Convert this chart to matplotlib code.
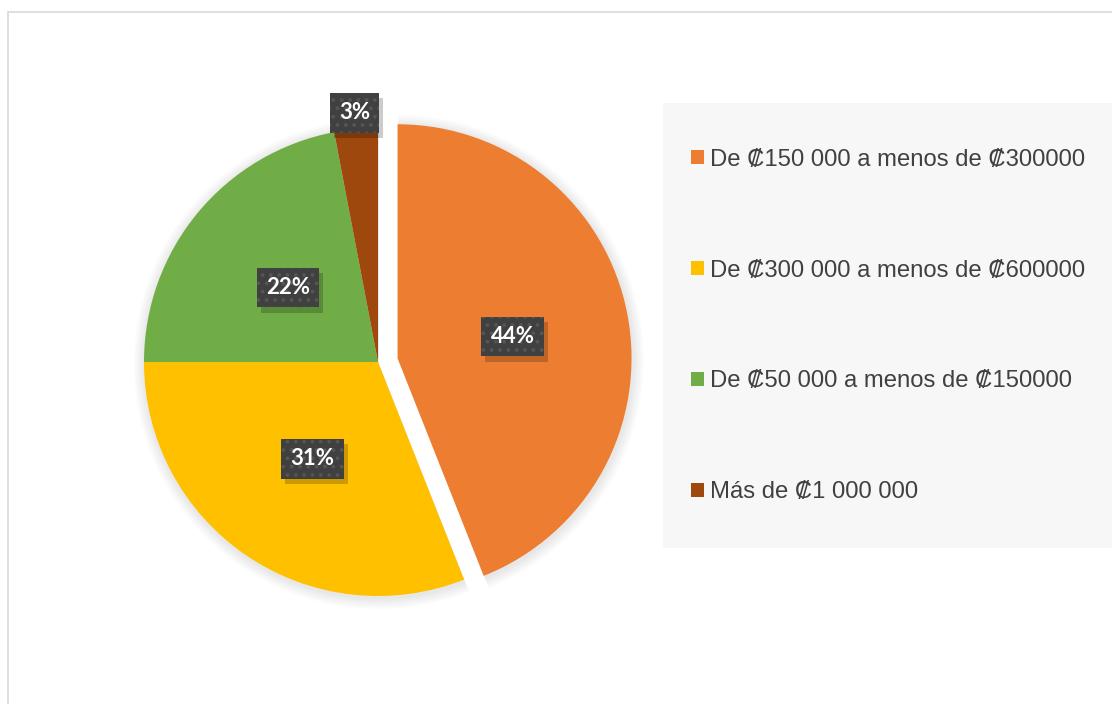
import matplotlib.pyplot as plt
import matplotlib.patheffects as pe
from matplotlib.patches import Rectangle
import numpy as np

categories = ['De ₡150 000 a menos de ₡300000',
              'De ₡300 000 a menos de ₡600000',
              'De ₡50 000 a menos de ₡150000',
              'Más de ₡1 000 000']
shares = [44, 31, 22, 3]
colors = ['#ed7d31', '#ffc000', '#70ad47', '#9e480e']
explode = [0.085, 0, 0, 0]


class PlainShadow(pe.SimplePatchShadow):
    # shadow without the hatch dots of the box
    def draw_path(self, renderer, gc, tpath, affine, rgbFace):
        gc0 = renderer.new_gc()
        gc0.copy_properties(gc)
        gc0.set_hatch(None)
        super().draw_path(renderer, gc0, tpath, affine, rgbFace)


W, H = 1112, 704
plt.rcParams['hatch.linewidth'] = 1.5
fig = plt.figure(figsize=(W / 100, H / 100), dpi=100)
fig.patch.set_facecolor('white')

# outer chart border
fig.patches.append(Rectangle((8 / W, -0.1), 1.2, 1 - 12 / H + 0.1,
                             transform=fig.transFigure, fill=False,
                             edgecolor='#d9d9d9', linewidth=1.2))

# legend background
fig.patches.append(Rectangle((663 / W, 1 - 548 / H), 0.5, (548 - 103) / H,
                             transform=fig.transFigure, facecolor='#f7f7f7',
                             edgecolor='none'))

cx, cy, r = 378, 362, 234
ax = fig.add_axes([(cx - r) / W, (H - cy - r) / H, 2 * r / W, 2 * r / H])

# soft shadow
for k in range(8):
    ax.pie(shares, explode=explode, startangle=90, counterclock=False,
           radius=1.0 + 0.006 * (k + 1), colors=['#000000'] * 4,
           wedgeprops=dict(alpha=0.013, linewidth=0), center=(0.004, -0.008))

wedges, texts, autotexts = ax.pie(
    shares, explode=explode, startangle=90, counterclock=False,
    colors=colors, autopct='%.0f%%', pctdistance=0.5,
    wedgeprops=dict(linewidth=0),
    textprops=dict(color='white', fontsize=16, fontweight='bold',
                   family=['Lato', 'DejaVu Sans']))
ax.set_xlim(-1, 1)
ax.set_ylim(-1, 1)
ax.axis('off')
for p in ax.patches:
    p.set_clip_on(False)

# small slice label sits outside
w = wedges[3]
mid = np.deg2rad((w.theta1 + w.theta2) / 2)
autotexts[3].set_position((1.07 * np.cos(mid), 1.07 * np.sin(mid)))

for t in autotexts:
    t.set_bbox(dict(boxstyle='square,pad=0.42', facecolor='#404040',
                    edgecolor='#555555', linewidth=0, hatch='..'))
    t.set_zorder(10)
    t.get_bbox_patch().set_path_effects([
        PlainShadow(offset=(3, -4), shadow_rgbFace='black', alpha=0.2),
        pe.Normal()])

fig.legend(wedges, categories, loc='center left',
           bbox_to_anchor=(679 / W, 1 - 326 / H), frameon=False,
           prop=dict(family=['Liberation Sans', 'DejaVu Sans'], size=17.2),
           labelcolor='#404040', handlelength=0.55, handleheight=0.55,
           handletextpad=0.25, labelspacing=3.72, borderpad=0)

fig.savefig('out.png', dpi=100)
